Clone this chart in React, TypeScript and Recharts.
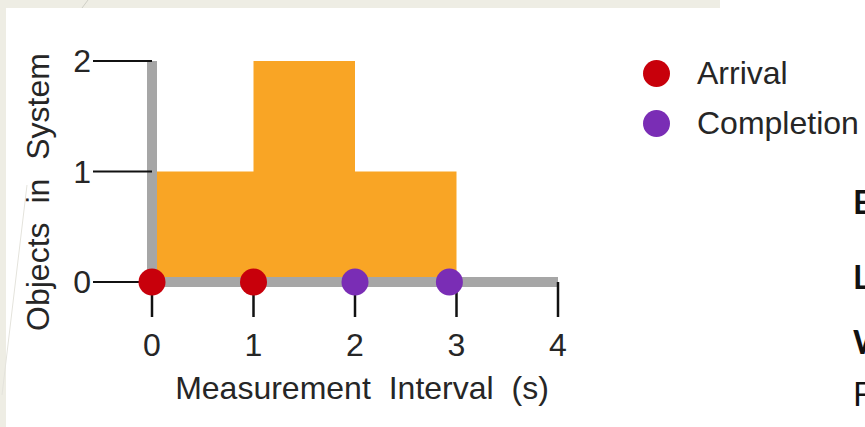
import { ComposedChart, Area, Scatter, XAxis, YAxis } from "recharts";

// step function of objects in system over the interval
const stepTimes = [0, 1, 2, 3];
const objectsInSystem = [1, 2, 1, 0];

// events on the time axis
const arrivalTimes = [0, 1];
const completionTimes = [2, 2.93];

const intervalTicks = [0, 1, 2, 3, 4];
const countTicks = [0, 1, 2];

const legendItems = [
  { name: "Arrival", color: "#c8000b" },
  { name: "Completion", color: "#7a2db5" },
];

const sideLetters = [
  { text: "E", top: 202, bold: true },
  { text: "L", top: 277, bold: true },
  { text: "W", top: 342, bold: true },
  { text: "F", top: 394, bold: false },
];

const stepData = stepTimes.map((t, i) => ({ t, n: objectsInSystem[i] }));
const arrivals = arrivalTimes.map((t) => ({ t, n: 0 }));
const completions = completionTimes.map((t) => ({ t, n: 0 }));

const FONT = "'Liberation Sans', Arial, sans-serif";
const TEXT = "#262626";

const dot = (color: string) => (props: any) =>
  <circle cx={props.cx} cy={props.cy} r={13.5} fill={color} />;

const XTitle = (props: any) => {
  const vb = props.viewBox || { x: 152, width: 406 };
  return (
    <text
      x={vb.x + vb.width / 2 + 7}
      y={399}
      textAnchor="middle"
      fill={TEXT}
      style={{ fontFamily: FONT, fontSize: 32, wordSpacing: 9 }}
    >
      Measurement Interval (s)
    </text>
  );
};

const YTitle = () => (
  <text
    transform="translate(49,192) rotate(-90)"
    textAnchor="middle"
    fill={TEXT}
    style={{ fontFamily: FONT, fontSize: 32, wordSpacing: 10 }}
  >
    Objects in System
  </text>
);

export default function App() {
  return (
    <div style={{ position: "relative", width: 865, height: 427, background: "#fff", overflow: "hidden" }}>
      <style>{`body{margin:0;overflow:hidden}`}</style>
      <div style={{ position: "absolute", left: 0, top: 0, width: 720, height: 8, background: "#eeede4" }} />
      <div style={{ position: "absolute", left: 0, top: 0, width: 6, height: 427, background: "#eeede4" }} />
      <svg width={865} height={427} style={{ position: "absolute", left: 0, top: 0 }}>
        <line x1={88} y1={0} x2={82} y2={8} stroke="#cfcfc6" strokeWidth={1} />
        <line x1={2} y1={395} x2={27} y2={185} stroke="#e4e3dc" strokeWidth={1} />
      </svg>

      <div style={{ position: "absolute", left: 0, top: 0 }}>
        <ComposedChart
          width={865}
          height={427}
          data={stepData}
          margin={{ top: 61, right: 307, bottom: 115, left: 92 }}
        >
          <Area
            type="stepAfter"
            dataKey="n"
            stroke="none"
            fill="#f9a525"
            fillOpacity={1}
            isAnimationActive={false}
            legendType="none"
            dot={false}
            activeDot={false}
          />
          <XAxis
            dataKey="t"
            type="number"
            domain={[0, 4]}
            ticks={intervalTicks}
            height={30}
            axisLine={{ stroke: "#a6a6a6", strokeWidth: 10 }}
            tickLine={{ stroke: "#111", strokeWidth: 2.5 }}
            tickSize={35}
            tickMargin={16}
            tick={{ fill: TEXT, fontSize: 32, fontFamily: FONT }}
            interval={0}
            label={<XTitle />}
          />
          <YAxis
            type="number"
            domain={[0, 2]}
            ticks={countTicks}
            width={60}
            axisLine={{ stroke: "#a6a6a6", strokeWidth: 10 }}
            tickLine={{ stroke: "#111", strokeWidth: 2 }}
            tickSize={59}
            tickMargin={2}
            tick={{ fill: TEXT, fontSize: 32, fontFamily: FONT }}
            interval={0}
            label={<YTitle />}
          />
          <Scatter
            name="Arrival"
            data={arrivals}
            dataKey="n"
            shape={dot(legendItems[0].color)}
            isAnimationActive={false}
          />
          <Scatter
            name="Completion"
            data={completions}
            dataKey="n"
            shape={dot(legendItems[1].color)}
            isAnimationActive={false}
          />
        </ComposedChart>
      </div>

      <div style={{ position: "absolute", left: 643, top: 48, fontFamily: FONT, fontSize: 32, color: TEXT }}>
        {legendItems.map((item) => (
          <div key={item.name} style={{ display: "flex", alignItems: "center", height: 50 }}>
            <span
              style={{
                width: 27,
                height: 27,
                borderRadius: "50%",
                background: item.color,
                display: "inline-block",
                marginRight: 27,
              }}
            />
            <span>{item.name}</span>
          </div>
        ))}
      </div>

      {sideLetters.map((l) => (
        <div
          key={l.text}
          style={{
            position: "absolute",
            left: 853,
            top: l.top - 20,
            fontFamily: "Lato, 'Open Sans', sans-serif",
            fontWeight: l.bold ? 700 : 400,
            fontSize: 32,
            lineHeight: "40px",
            color: "#111",
            whiteSpace: "nowrap",
          }}
        >
          {l.text}
        </div>
      ))}
    </div>
  );
}
